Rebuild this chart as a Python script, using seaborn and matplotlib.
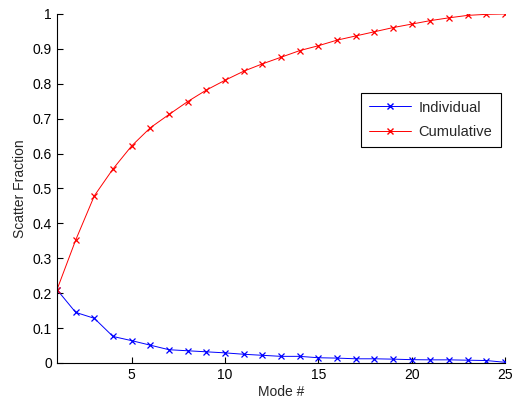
import numpy as np
import pandas as pd
import matplotlib
matplotlib.use("Agg")
import matplotlib.pyplot as plt
import seaborn as sns
from matplotlib.lines import Line2D

# valores
modos = list(range(1, 26))
individual = [0.210, 0.145, 0.128, 0.076, 0.064, 0.051, 0.038, 0.035, 0.032, 0.029,
              0.025, 0.022, 0.019, 0.019, 0.015, 0.014, 0.012, 0.012, 0.011, 0.0095,
              0.009, 0.009, 0.008, 0.007, 0.002]
cumulativo = [0.210, 0.352, 0.479, 0.556, 0.622, 0.674, 0.712, 0.749, 0.782, 0.810,
              0.836, 0.857, 0.876, 0.895, 0.909, 0.925, 0.937, 0.949, 0.961, 0.971,
              0.981, 0.989, 0.996, 0.999, 1.000]

df_ind = pd.DataFrame({"Mode": modos, "Fraction": individual})
df_cum = pd.DataFrame({"Mode": modos, "Fraction": cumulativo})

sns.set_style("ticks")
plt.rcParams["font.family"] = ["Liberation Sans", "DejaVu Sans"]
plt.rcParams["xtick.direction"] = "in"
plt.rcParams["ytick.direction"] = "in"

fig = plt.figure(figsize=(5.12, 4.03), dpi=100)
ax = fig.add_axes([0.1113, 0.0993, 0.875, 0.866])

sns.lineplot(data=df_ind, x="Mode", y="Fraction", color="blue",
             marker="x", markersize=5, markeredgewidth=0.9, markeredgecolor="blue",
             linewidth=0.7, ax=ax)
sns.lineplot(data=df_cum, x="Mode", y="Fraction", color="red",
             marker="x", markersize=5, markeredgewidth=0.9, markeredgecolor="red",
             linewidth=0.7, ax=ax)

ax.set_xlim(1, 25)
ax.set_ylim(0, 1)
ax.set_xticks([5, 10, 15, 20, 25])
ax.set_yticks(np.arange(0, 1.01, 0.1))
ax.set_yticklabels(["0", "0.1", "0.2", "0.3", "0.4", "0.5", "0.6", "0.7", "0.8", "0.9", "1"])
ax.tick_params(labelsize=10, length=4, width=0.8, colors="black")
for lado in ["top", "right"]:
    ax.spines[lado].set_visible(False)
for lado in ["left", "bottom"]:
    ax.spines[lado].set_color("black")
    ax.spines[lado].set_linewidth(0.8)

ax.set_xlabel("Mode #", fontsize=10, labelpad=2)
ax.set_ylabel("Scatter Fraction", fontsize=10, labelpad=4)

handles = [Line2D([], [], color="blue", marker="x", linewidth=0.7, markersize=5),
           Line2D([], [], color="red", marker="x", linewidth=0.7, markersize=5)]
leg = ax.legend(handles, ["Individual", "Cumulative"], loc="upper right",
                bbox_to_anchor=(0.99, 0.775), fontsize=10.5, fancybox=False,
                framealpha=1, edgecolor="black", borderpad=0.55,
                handlelength=2.9, handletextpad=0.5, labelspacing=0.7,
                borderaxespad=0)
leg.get_frame().set_linewidth(0.8)

fig.savefig("out.png", dpi=100)
